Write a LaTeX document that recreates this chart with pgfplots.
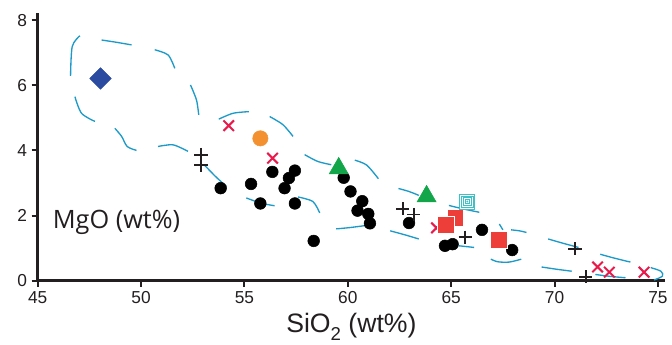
\documentclass[border=0pt]{standalone}
\usepackage{fontspec}
\setmainfont{Liberation Sans}
\newfontfamily\mgofont{Open Sans}
\usepackage{pgfplots}
\pgfplotsset{compat=1.18}
\definecolor{axisc}{HTML}{231F20}
\definecolor{dashc}{HTML}{1C9AC8}
\definecolor{crim}{HTML}{E8194B}
\definecolor{bluem}{HTML}{2B4BA0}
\definecolor{orangem}{HTML}{F39130}
\definecolor{greenm}{HTML}{12A54A}
\definecolor{redm}{HTML}{EE3E3A}
\definecolor{cyanm}{HTML}{3EC1C6}

\begin{document}
\begin{tikzpicture}
\begin{axis}[
 scale only axis, width=471.2pt, height=201pt,
 xmin=45, xmax=75.35, ymin=0, ymax=8.22,
 axis x line*=bottom, axis y line*=left,
 axis line style={line width=2pt, color=axisc},
 xtick={45,50,...,75}, ytick={0,2,...,8},
 tick align=outside, major tick length=4.5pt,
 tick style={line width=1.5pt, color=axisc},
 ticklabel style={font=\fontsize{13}{13}\selectfont, color=axisc},
 /pgf/number format/assume math mode=true,
 xlabel={SiO\raisebox{-0.55ex}{\fontsize{14}{14}\selectfont 2} (wt\%)},
 xlabel style={font=\fontsize{20}{20}\selectfont, color=axisc, at={(axis description cs:0.5,-0.194)}, anchor=base},
 clip=false,
]
\coordinate (O) at (rel axis cs:0,0);
% envelope (dashed pieces)
\addplot[dashc, line width=1pt, smooth, no marks] table {
46.59 6.29
46.67 7.19
47.04 7.52

48.09 7.39
48.81 7.32
49.54 7.24

50.66 7.09
51.31 6.93
51.63 6.52

52.39 6.01
52.68 5.55
52.79 5.09

53.76 4.96
54.45 5.14
55.21 5.19

56.22 5.04
56.86 4.79
57.35 4.43

57.91 3.87
58.55 3.66
59.20 3.56

60.34 3.70
60.91 3.55
61.48 3.13

62.45 2.83
62.95 2.74
63.43 2.62

64.89 2.31
65.60 2.20
66.36 2.10

67.33 1.74
67.50 1.56

67.90 1.56
68.30 1.53
68.64 1.48

69.69 1.28
70.40 1.15
71.16 1.02

72.21 0.81
72.90 0.69
73.67 0.57

74.65 0.40
75.14 0.29
75.22 0.14
74.81 0.02

71.97 0.19
72.70 0.13
73.43 0.09

69.37 0.42
70.10 0.35
70.83 0.29

66.92 0.66
67.25 0.58
67.80 0.57
68.39 0.66

65.38 1.07
66.11 1.02

62.05 1.53
62.80 1.40
63.43 1.28

59.44 1.59
60.10 1.63
60.83 1.69

57.59 2.57
58.31 2.43
58.64 2.08

55.09 2.54
55.80 2.38
56.46 2.30

53.08 3.54
53.60 3.20
54.13 2.89

50.82 4.12
51.55 4.17
52.27 3.97

48.73 4.68
49.06 4.43
49.33 4.12
49.78 4.00

46.80 5.65
47.12 5.14
47.77 4.89
};
% black circles
\addplot[only marks, mark=*, mark size=4.4pt, mark options={fill=black, draw=black}] coordinates {
(53.85,2.84) (55.32,2.97) (55.77,2.37) (56.35,3.34) (57.44,3.38) (57.15,3.15)
(56.94,2.84) (57.44,2.37) (58.35,1.22) (59.80,3.16) (60.13,2.74) (60.70,2.44)
(60.47,2.15) (60.99,2.05) (61.07,1.76) (62.96,1.77) (64.70,1.07) (65.07,1.12)
(66.49,1.56) (67.95,0.94)
};
% black plus
\addplot[only marks, mark=+, mark size=5pt, mark options={draw=axisc, line width=1.4pt}] coordinates {
(52.90,3.87) (52.90,3.54) (62.66,2.21) (63.19,2.03) (65.68,1.33) (70.99,0.98) (71.51,0.12)
};
% red crosses
\addplot[only marks, mark=x, mark size=5.6pt, mark options={draw=crim, line width=1.5pt}] coordinates {
(54.24,4.76) (56.36,3.76) (64.29,1.62) (72.08,0.42) (72.65,0.26) (74.33,0.26)
};
% blue diamond
\addplot[only marks, mark=square*, mark size=5.7pt, mark options={rotate=45, fill=bluem, draw=bluem}] coordinates {(48.04,6.21)};
% orange circle
\addplot[only marks, mark=*, mark size=5.75pt, mark options={fill=orangem, draw=orangem}] coordinates {(55.77,4.37)};
% green triangles
\addplot[only marks, mark=triangle*, mark size=8.2pt, mark options={fill=greenm, draw=greenm}] coordinates {(59.56,3.45) (63.81,2.59)};
% red squares
\addplot[only marks, mark=square*, mark size=6.3pt, mark options={fill=redm, draw=white, line width=0.8pt}] coordinates {(65.21,1.92)};
\addplot[only marks, mark=square*, mark size=6.3pt, mark options={fill=redm, draw=white, line width=0.8pt}] coordinates {(64.75,1.71) (67.32,1.25)};
% cyan concentric squares
\addplot[only marks, mark=square*, mark size=5.6pt, mark options={fill=white, draw=cyanm, line width=0.7pt, rounded corners=1.5pt}] coordinates {(65.78,2.43)};
\addplot[only marks, mark=square, mark size=4.2pt, mark options={draw=cyanm, line width=0.6pt}] coordinates {(65.78,2.43)};
\addplot[only marks, mark=square, mark size=2.8pt, mark options={draw=cyanm, line width=0.6pt}] coordinates {(65.78,2.43)};
\addplot[only marks, mark=square, mark size=1.4pt, mark options={draw=cyanm, line width=0.6pt}] coordinates {(65.78,2.43)};
\addplot[only marks, mark=*, mark size=0.5pt, mark options={fill=cyanm, draw=cyanm}] coordinates {(65.78,2.43)};
% MgO label
\node[anchor=base west, inner sep=0pt, font=\mgofont\fontsize{19}{19}\selectfont, text=axisc] at (axis cs:45.72,1.59) {MgO (wt\%)};
\end{axis}
\path (O) ++(-28.3pt,-48pt) rectangle ++(504pt,258.75pt);
\end{tikzpicture}
\end{document}
